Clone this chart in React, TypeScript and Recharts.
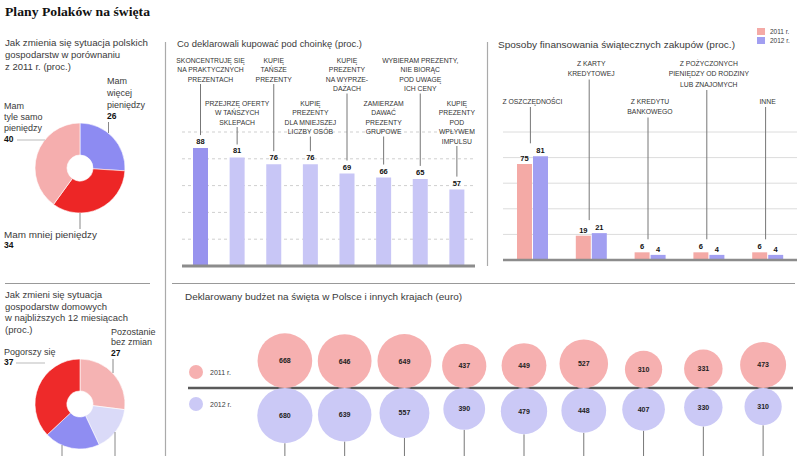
import React from 'react';
import {
  PieChart, Pie, Cell, BarChart, Bar, XAxis, YAxis, ZAxis, CartesianGrid,
  ReferenceLine, LabelList, ComposedChart, Line, ScatterChart, Scatter,
} from 'recharts';

const FONT = '"Liberation Sans", Arial, sans-serif';

// --- Pie 1: situation vs previous year (proc.)
const situationNames = ['Mam więcej pieniędzy', 'Mam mniej pieniędzy', 'Mam tyle samo pieniędzy'];
const situationValues = [26, 34, 40];
const situationColors = ['#8d8bf2', '#ed2626', '#f5aeae'];

// --- Pie 2: outlook for next 12 months (proc.)
const outlookNames = ['Pozostanie bez zmian', 'Nie wiem', 'Poprawi się', 'Pogorszy się'];
const outlookValues = [27, 16, 20, 37];
const outlookColors = ['#f5b3b3', '#dadaf8', '#8f8df2', '#ee2a2a'];

// --- Gift intentions (proc.)
const giftLines: string[][] = [
  ['SKONCENTRUJĘ SIĘ', 'NA PRAKTYCZNYCH', 'PREZENTACH'],
  ['PRZEJRZĘ OFERTY', 'W TAŃSZYCH', 'SKLEPACH'],
  ['KUPIĘ', 'TAŃSZE', 'PREZENTY'],
  ['KUPIĘ', 'PREZENTY', 'DLA MNIEJSZEJ', 'LICZBY OSÓB'],
  ['KUPIĘ', 'PREZENTY', 'NA WYPRZE-', 'DAŻACH'],
  ['ZAMIERZAM', 'DAWAĆ', 'PREZENTY', 'GRUPOWE'],
  ['WYBIERAM PREZENTY,', 'NIE BIORĄC', 'POD UWAGĘ', 'ICH CENY'],
  ['KUPIĘ', 'PREZENTY', 'POD', 'WPŁYWEM', 'IMPULSU'],
];
const giftValues = [88, 81, 76, 76, 69, 66, 65, 57];

// --- Financing of purchases (proc.)
const finLines: string[][] = [
  ['Z OSZCZĘDNOŚCI'],
  ['Z KARTY', 'KREDYTOWEJ'],
  ['Z KREDYTU', 'BANKOWEGO'],
  ['Z POŻYCZONYCH', 'PIENIĘDZY OD RODZINY', 'LUB ZNAJOMYCH'],
  ['INNE'],
];
const fin2011 = [75, 19, 6, 6, 6];
const fin2012 = [81, 21, 4, 4, 4];

// --- Declared budget (euro)
const countries = ['Luksemburg', 'Irlandia', 'Hiszpania', 'Wielka Brytania', 'Włochy', 'Austria', 'Polska', 'Francja', 'Niemcy'];
const budget2011 = [668, 646, 649, 437, 449, 527, 310, 331, 473];
const budget2012 = [680, 639, 557, 390, 479, 448, 407, 330, 310];
const years = ['2011 r.', '2012 r.'];

const yTicks = [0, 20, 40, 60, 80, 100];

const situationData = situationValues.map((v, i) => ({ name: situationNames[i], value: v }));
const outlookData = outlookValues.map((v, i) => ({ name: outlookNames[i], value: v }));
const giftData = giftValues.map((v, i) => ({ name: giftLines[i].join(' '), value: v }));
const finData = finLines.map((l, i) => ({
  name: l.join(' '), a: fin2011[i], b: fin2012[i], top: Math.max(fin2011[i], fin2012[i]),
}));
const pinkData = countries.map((c, i) => ({ country: c, y: 0, z: budget2011[i] }));
const blueData = countries.map((c, i) => ({ country: c, y: 0, z: budget2012[i] }));

function getBox(props: any) {
  const vb = props.viewBox || {};
  return {
    x: props.x ?? vb.x ?? 0,
    y: props.y ?? vb.y ?? 0,
    w: props.width ?? vb.width ?? 0,
  };
}

const LABEL_SIZE = 6.8;

function GiftLabel(props: any) {
  const { x, y, w } = getBox(props);
  const i = props.index ?? 0;
  const cx = x + w / 2;
  const lines = giftLines[i] || [];
  const top = i % 2 === 0 ? 60 : 103;
  const lh = 9.5;
  const lineStart = top + (lines.length - 1) * lh + 5;
  const tx = cx + (i === 0 ? 10 : 0);
  return (
    <g>
      {lines.map((l, k) => (
        <text key={k} x={tx} y={top + k * lh + 2.5} textAnchor="middle" fontSize={LABEL_SIZE} fill="#333" fontFamily={FONT}>{l}</text>
      ))}
      <line x1={cx} x2={cx} y1={lineStart} y2={y - 13} stroke="#777" strokeWidth={1} />
      <text x={cx} y={y - 4} textAnchor="middle" fontSize={7.5} fontWeight="bold" fill="#111" fontFamily={FONT}>{props.value}</text>
    </g>
  );
}

function FinLabel(props: any) {
  const { x, y } = getBox(props);
  const i = props.index ?? 0;
  const lines = finLines[i] || [];
  const top = i % 2 === 1 ? 63 : 101;
  const lh = 10.5;
  const lineStart = top + (lines.length - 1) * lh + 6;
  return (
    <g>
      {lines.map((l, k) => (
        <text key={k} x={x} y={top + k * lh + 2.5} textAnchor="middle" fontSize={LABEL_SIZE} fill="#333" fontFamily={FONT}>{l}</text>
      ))}
      <line x1={x - 2} x2={x - 2} y1={lineStart} y2={y - 13} stroke="#777" strokeWidth={1} />
    </g>
  );
}

function bubble(props: any, up: boolean) {
  const { cx, cy, fill } = props;
  const r = props.width ? props.width / 2 : Math.sqrt(Math.max(props.size || 0, 0) / Math.PI);
  const by = up ? cy - r : cy + r;
  const val = props.payload?.z ?? props.node?.z;
  return (
    <g>
      {!up && <line x1={cx} x2={cx} y1={cy + 2 * r} y2={cy + 200} stroke="#777" strokeWidth={1} />}
      <circle cx={cx} cy={by} r={r} fill={fill} />
      <text x={cx} y={by + 2.5} textAnchor="middle" fontSize={7} fontWeight="bold" fill="#222" fontFamily={FONT}>{val}</text>
    </g>
  );
}
const PinkBubble = (p: any) => bubble(p, true);
const BlueBubble = (p: any) => bubble(p, false);

const T = ({ x, y, children, size = 9.5, bold = false, fill = '#3a3a3a', anchor = 'start', len }: any) => (
  <text x={x} y={y} fontSize={size} fontWeight={bold ? 'bold' : 'normal'} fill={fill} fontFamily={FONT} textAnchor={anchor}
    {...(len ? { textLength: len, lengthAdjust: 'spacingAndGlyphs' } : {})}>{children}</text>
);

export default function App() {
  const abs = (l: number, t: number): React.CSSProperties => ({ position: 'absolute', left: l, top: t });
  return (
    <div style={{ position: 'absolute', left: 0, top: 0, width: 805, height: 456, background: '#fff', overflow: 'hidden', fontFamily: FONT }}>
      {/* Pie 1 */}
      <div style={abs(0, 0)}>
        <PieChart width={165} height={270} margin={{ top: 0, right: 0, bottom: 0, left: 0 }}>
          <Pie data={situationData} dataKey="value" cx={80} cy={168} innerRadius={13} outerRadius={45}
            startAngle={90} endAngle={-270} stroke="#fff" strokeWidth={0.6} isAnimationActive={false}>
            {situationData.map((d, i) => <Cell key={i} fill={situationColors[i]} />)}
          </Pie>
        </PieChart>
      </div>
      {/* Pie 2 */}
      <div style={abs(0, 270)}>
        <PieChart width={165} height={186} margin={{ top: 0, right: 0, bottom: 0, left: 0 }}>
          <Pie data={outlookData} dataKey="value" cx={80} cy={134} innerRadius={13} outerRadius={45}
            startAngle={90} endAngle={-270} stroke="#fff" strokeWidth={0.6} isAnimationActive={false}>
            {outlookData.map((d, i) => <Cell key={i} fill={outlookColors[i]} />)}
          </Pie>
        </PieChart>
      </div>
      {/* Gifts bar chart */}
      <div style={abs(165, 0)}>
        <BarChart width={320} height={280} data={giftData} margin={{ top: 132, right: 10, bottom: 14, left: 17 }}>
          <CartesianGrid vertical={false} stroke="#cfcfcf" strokeDasharray="3 3" />
          <XAxis dataKey="name" hide />
          <YAxis hide domain={[0, 100]} ticks={yTicks} />
          <Bar dataKey="value" barSize={15} isAnimationActive={false}>
            {giftData.map((d, i) => <Cell key={i} fill={i === 0 ? '#9893ee' : '#c8c6f6'} />)}
            <LabelList dataKey="value" content={GiftLabel} />
          </Bar>
          <ReferenceLine y={0} stroke="#8c8c8c" strokeWidth={3} />
        </BarChart>
      </div>
      {/* Financing chart */}
      <div style={abs(487, 0)}>
        <ComposedChart width={318} height={280} data={finData} margin={{ top: 132, right: 8, bottom: 20, left: 16 }} barGap={1}>
          <CartesianGrid vertical={false} stroke="#dcdcdc" />
          <XAxis dataKey="name" hide />
          <YAxis hide domain={[0, 100]} ticks={yTicks} />
          <Bar dataKey="a" name={years[0]} fill="#f4aaa6" barSize={15} isAnimationActive={false}>
            <LabelList dataKey="a" position="top" offset={3} fontSize={7.5} fontWeight="bold" fill="#111" />
          </Bar>
          <Bar dataKey="b" name={years[1]} fill="#a29ff1" barSize={15} isAnimationActive={false}>
            <LabelList dataKey="b" position="top" offset={3} fontSize={7.5} fontWeight="bold" fill="#111" />
          </Bar>
          <Line dataKey="top" stroke="none" dot={false} activeDot={false} isAnimationActive={false}>
            <LabelList dataKey="top" content={FinLabel} />
          </Line>
          <ReferenceLine y={0} stroke="#8c8c8c" strokeWidth={2.5} />
        </ComposedChart>
      </div>
      {/* Budget bubbles */}
      <div style={abs(165, 280)}>
        <ScatterChart width={640} height={176} margin={{ top: 58, right: 12, bottom: 18, left: 23 }}>
          <XAxis dataKey="country" type="category" allowDuplicatedCategory={false} hide padding={{ left: 67, right: 0 }} />
          <YAxis dataKey="y" type="number" domain={[-1, 1]} hide />
          <ZAxis dataKey="z" type="number" domain={[0, 700]} range={[0, Math.PI * 28 * 28]} />
          <Scatter data={pinkData} name={years[0]} fill="#f6b0b0" shape={PinkBubble} isAnimationActive={false} />
          <Scatter data={blueData} name={years[1]} fill="#cbc9f6" shape={BlueBubble} isAnimationActive={false} />
          <ReferenceLine y={0} stroke="#5a5a5a" strokeWidth={2.5} />
        </ScatterChart>
      </div>
      {/* Static annotations */}
      <svg width={805} height={456} style={{ position: 'absolute', left: 0, top: 0, pointerEvents: 'none' }}>
        <text x={5} y={16} fontSize={12.5} fontWeight="bold" fill="#111" fontFamily='"Liberation Serif", serif' textLength={145} lengthAdjust="spacingAndGlyphs">Plany Polaków na święta</text>
        {/* separators */}
        <line x1={165.5} x2={165.5} y1={42} y2={456} stroke="#aaa" strokeWidth={1.2} />
        <line x1={487.5} x2={487.5} y1={42} y2={266} stroke="#aaa" strokeWidth={1.2} />
        <line x1={5} x2={150} y1={283.5} y2={283.5} stroke="#999" strokeWidth={1} />
        <line x1={172} x2={795} y1={283.5} y2={283.5} stroke="#999" strokeWidth={1} />
        {/* pie 1 */}
        <T x={5} y={46} len={143}>Jak zmienia się sytuacja polskich</T>
        <T x={5} y={58}>gospodarstw w porównaniu</T>
        <T x={5} y={70}>z 2011 r. (proc.)</T>
        <T x={107} y={84} size={9}>Mam</T>
        <T x={107} y={96} size={9}>więcej</T>
        <T x={107} y={108} size={9}>pieniędzy</T>
        <T x={107} y={119} size={8.5} bold fill="#111">{situationValues[0]}</T>
        <line x1={108.5} x2={108.5} y1={122} y2={133} stroke="#888" />
        <T x={4} y={109} size={9}>Mam</T>
        <T x={4} y={120} size={9}>tyle samo</T>
        <T x={4} y={131} size={9}>pieniędzy</T>
        <T x={4} y={142} size={8.5} bold fill="#111">{situationValues[2]}</T>
        <line x1={17} x2={45} y1={140} y2={140} stroke="#bbb" />
        <line x1={80} x2={80} y1={213} y2={229} stroke="#888" />
        <T x={4} y={238} size={9} len={93}>Mam mniej pieniędzy</T>
        <T x={4} y={248} size={8.5} bold fill="#111">{situationValues[1]}</T>
        {/* pie 2 */}
        <T x={5} y={298}>Jak zmieni się sytuacja</T>
        <T x={5} y={310}>gospodarstw domowych</T>
        <T x={5} y={321} len={123}>w najbliższych 12 miesiącach</T>
        <T x={5} y={333}>(proc.)</T>
        <T x={111} y={335} size={9}>Pozostanie</T>
        <T x={111} y={345} size={9}>bez zmian</T>
        <T x={111} y={356} size={8.5} bold fill="#111">{outlookValues[0]}</T>
        <line x1={113} x2={113} y1={359} y2={373} stroke="#888" />
        <T x={4} y={355} size={9}>Pogorszy się</T>
        <T x={4} y={365} size={8.5} bold fill="#111">{outlookValues[3]}</T>
        <line x1={16} x2={45} y1={363} y2={363} stroke="#bbb" />
        <line x1={62} x2={62} y1={445} y2={456} stroke="#888" />
        <line x1={115} x2={115} y1={432} y2={456} stroke="#888" />
        {/* chart titles */}
        <T x={177} y={47} size={8.5} len={185}>Co deklarowali kupować pod choinkę (proc.)</T>
        <T x={498} y={48} len={237}>Sposoby finansowania świątecznych zakupów (proc.)</T>
        <rect x={757} y={28} width={8} height={7} fill="#f4aaa6" />
        <rect x={757} y={37} width={8} height={7} fill="#a29ff1" />
        <T x={770} y={34} size={6.5}>{years[0]}</T>
        <T x={770} y={43} size={6.5}>{years[1]}</T>
        <T x={185} y={300} len={277}>Deklarowany budżet na święta w Polsce i innych krajach (euro)</T>
        <circle cx={196} cy={372} r={7} fill="#f6b0b0" />
        <circle cx={196} cy={404} r={7} fill="#cbc9f6" />
        <T x={210} y={375} size={7}>{years[0]}</T>
        <T x={210} y={407} size={7}>{years[1]}</T>
      </svg>
    </div>
  );
}
